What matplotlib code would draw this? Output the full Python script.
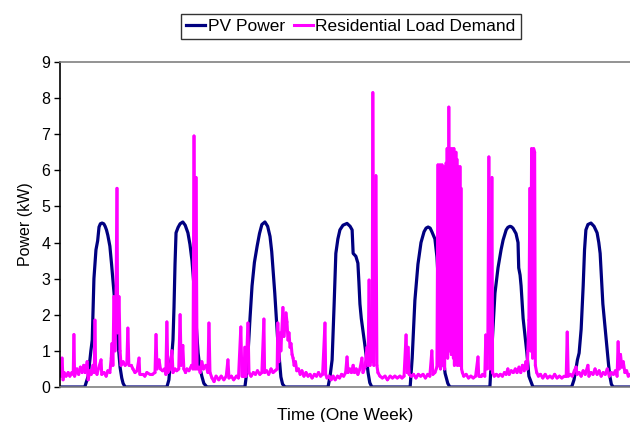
import matplotlib
matplotlib.use("Agg")
import matplotlib.pyplot as plt
from matplotlib.collections import LineCollection
from matplotlib.lines import Line2D

plt.rcParams['font.family'] = ['Liberation Sans', 'DejaVu Sans']
plt.rcParams['path.simplify'] = False

# PV power (kW) over one week, time in hours
pv_t = [0, 7.3, 8.3, 9.1, 9.5, 10.0, 10.6, 11.1, 11.5, 11.9, 12.4, 12.9, 13.3, 13.7, 14.1, 14.7, 15.2, 15.6,
        16.2, 16.8, 17.3, 17.7, 18.2, 18.6, 19.2,
        31.5, 32.1, 32.4, 33.0, 33.3, 33.6, 33.9, 34.2, 34.8, 35.4, 36.2, 36.9, 37.7, 38.3, 38.9, 39.4,
        39.8, 40.3, 40.7, 41.2, 41.8, 42.4, 43.3,
        54.5, 54.9, 55.4, 56.0, 56.6, 57.3, 58.1, 58.8, 59.5, 60.4, 61.2, 61.9, 62.4, 62.8, 63.3, 63.7,
        64.1, 64.5, 65.1, 65.6, 66.3,
        79.0, 79.6, 80.2, 80.8, 81.3, 81.9, 82.5, 83.4, 84.6, 85.5, 86.1, 86.4, 87.2, 87.8, 88.1, 88.4,
        88.8, 89.3, 89.8, 90.2, 90.8, 91.3, 91.9,
        103.2, 103.8, 104.6, 105.5, 106.4, 107.3, 107.9, 108.5, 109.1, 109.6, 110.5, 111.1, 111.7, 112.3,
        113.0, 113.5, 114.3, 114.9,
        126.7, 127.6, 128.2, 129.1, 130.0, 130.6, 131.5, 132.0, 132.6, 133.0, 133.5, 134.4, 135.0, 135.2,
        135.6, 135.9, 136.5, 137.6, 138.2, 139.4,
        150.8, 151.5, 152.1, 152.5, 153.0, 153.6, 154.2, 154.6, 155.0, 155.6, 156.5, 157.4, 158.3, 158.8,
        159.2, 159.6, 160.0, 160.6, 161.2, 161.7, 162.1, 162.5, 163.0, 168.0]
pv_kw = [0, 0, 0.3, 1.0, 1.3, 3.0, 3.8, 4.05, 4.43, 4.52, 4.54, 4.52, 4.45, 4.35, 4.2, 3.9, 3.4, 2.96,
         2.3, 1.66, 1.0, 0.55, 0.25, 0.1, 0,
         0, 0.2, 0.55, 0.94, 1.3, 2.2, 3.4, 4.27, 4.42, 4.52, 4.57, 4.48, 4.27, 3.95, 3.5, 2.9,
         2.2, 1.5, 0.94, 0.55, 0.3, 0.1, 0,
         0, 0.3, 0.9, 1.9, 2.8, 3.45, 3.9, 4.25, 4.5, 4.57, 4.45, 4.17, 3.75, 3.24, 2.6, 2.0,
         1.4, 0.94, 0.28, 0.08, 0,
         0, 0.3, 0.75, 2.3, 3.7, 4.1, 4.35, 4.48, 4.53, 4.45, 4.35, 3.7, 3.62, 3.43, 2.9, 2.3,
         1.9, 1.55, 1.2, 0.9, 0.4, 0.12, 0,
         0, 0.8, 2.4, 3.4, 4.0, 4.3, 4.4, 4.43, 4.4, 4.3, 4.1, 3.6, 2.6, 1.6,
         0.8, 0.38, 0.1, 0,
         0, 1.6, 2.6, 3.3, 3.8, 4.07, 4.35, 4.42, 4.45, 4.44, 4.4, 4.25, 4.0, 3.3,
         3.1, 2.8, 1.9, 0.95, 0.3, 0,
         0, 0.2, 0.52, 0.75, 0.94, 1.6, 2.8, 3.8, 4.35, 4.5, 4.54, 4.45, 4.27, 4.0,
         3.7, 3.0, 2.3, 1.7, 1.1, 0.6, 0.28, 0.08, 0, 0]

# residential load demand (kW), time in hours
load_t = [0.0, 0.4, 0.6, 0.9, 1.2, 1.8, 2.4, 2.9, 3.5, 3.9, 4.1, 4.3, 5.0, 5.5, 6.0, 6.5, 7.0, 7.4, 8.0, 8.3,
          8.8, 9.2, 9.7, 10.1, 10.3, 10.5, 10.9, 11.3, 12.1, 12.3, 13.0, 13.6, 14.1, 14.7, 15.1, 15.3, 15.6,
          15.9, 16.2, 16.5, 16.8, 17.0, 17.4, 17.7, 18.0, 18.6, 19.2, 19.7, 20.0, 20.3, 21.0, 21.5, 22.1,
          22.7, 23.3, 23.5, 24.5, 25.0, 25.6, 26.5, 27.2, 28.0, 28.3, 28.6, 29.2, 29.6, 30.2, 30.8, 31.2,
          31.5, 31.8, 32.4, 33.0, 33.3, 33.9, 34.4, 35.0, 35.4, 35.7, 36.2, 36.5, 37.0, 37.4, 38.0, 38.8,
          39.2, 39.5, 39.8, 40.1, 40.4, 40.9, 41.3, 41.8, 42.3, 43.0, 43.6, 43.9, 44.2, 44.8, 45.4, 46.0,
          46.8, 47.5, 48.3, 49.0, 49.5, 49.8, 50.5, 51.2, 52.0, 52.6, 53.3, 53.6, 54.2, 54.5, 54.8, 55.4,
          55.7, 56.3, 57.0, 57.6, 58.2, 58.9, 59.5, 60.1, 60.3, 60.9, 61.5, 62.2, 62.8, 63.4, 64.0, 64.2,
          64.5, 64.9, 65.1, 65.7, 66.0, 66.3, 66.6, 66.9, 67.2, 67.5, 67.8, 68.1, 68.4, 68.7, 69.0, 69.4,
          69.8, 70.3, 70.8, 71.3, 71.9, 72.5, 73.1, 73.7, 74.3, 75.0, 75.6, 76.2, 76.8, 77.4, 78.1, 78.3,
          78.7, 79.3, 79.9, 80.5, 81.1, 81.8, 82.4, 83.0, 83.6, 84.2, 84.6, 84.9, 85.4, 85.9, 86.4, 86.8,
          87.3, 87.8, 88.4, 89.0, 89.3, 89.9, 90.5, 90.8, 91.1, 91.4, 91.8, 92.0, 92.2, 92.5, 92.8, 93.1,
          93.4, 93.7, 94.3, 95.0, 95.8, 96.5, 97.3, 98.0, 98.7, 99.4, 100.2, 100.8, 101.4, 102.0, 102.3,
          102.6, 102.9, 103.5, 104.2, 104.9, 105.6, 106.3, 107.0, 107.7, 108.4, 109.0, 109.6, 109.9, 110.5,
          111.1,
          111.4, 111.55, 111.7, 111.85, 112.0, 112.15, 112.3, 112.45, 112.6, 112.75, 112.9, 113.05, 113.2,
          113.35, 113.5, 113.65, 113.8, 113.95, 114.1, 114.25, 114.4, 114.5, 114.6, 114.75, 114.9, 115.05,
          115.2, 115.35, 115.5, 115.65, 115.8, 115.95, 116.1, 116.25, 116.4, 116.55, 116.7, 116.85, 117.0,
          117.15, 117.3, 117.45, 117.6, 117.75, 117.9, 118.05, 118.2, 118.35,
          118.6, 119.0, 119.7, 120.4, 121.1, 121.8, 122.5, 123.2, 123.4, 124.0, 124.6, 125.2, 125.5, 125.8,
          126.1, 126.4, 126.7, 127.0, 127.3, 127.5, 128.0, 128.6, 129.2, 129.8, 130.4, 131.0, 131.5, 132.0,
          132.4, 133.0, 133.6, 134.2, 134.7, 135.3, 135.8, 136.3, 136.8, 137.3, 137.7, 137.9, 138.2, 138.5,
          138.7, 139.0, 139.3, 139.6, 139.9, 140.1, 140.5, 141.0, 141.6, 142.3, 143.0, 143.7, 144.4, 145.1,
          145.8, 146.5, 147.2, 147.9, 148.6, 149.2, 149.5, 149.8, 150.4, 151.0, 151.6, 152.1, 152.4, 153.0,
          153.6, 154.2, 154.8, 155.6, 155.9, 156.5, 157.1, 157.7, 158.3, 158.9, 159.5, 160.1, 160.7, 161.3,
          161.9, 162.5, 163.1, 163.7, 164.2, 164.5, 164.8, 165.2, 165.6, 166.0, 166.5, 167.0, 167.5, 168.0]
load_kw = [0.35, 0.3, 0.8, 0.2, 0.4, 0.3, 0.4, 0.3, 0.4, 0.35, 1.45, 0.3, 0.5, 0.35, 0.55, 0.4, 0.6, 0.4, 0.7, 0.2,
           0.45, 0.35, 0.6, 0.4, 1.85, 0.5, 0.35, 0.5, 0.75, 0.35, 0.4, 0.3, 0.45, 0.4, 0.8, 1.2, 0.6,
           2.5, 1.0, 2.4, 5.5, 1.5, 2.5, 1.0, 0.6, 0.7, 0.6, 0.65, 1.63, 0.6, 0.6, 0.5, 0.4,
           0.45, 0.8, 0.35, 0.35, 0.3, 0.4, 0.35, 0.35, 0.4, 1.45, 0.5, 0.75, 0.5, 0.45, 0.5, 0.35,
           1.8, 0.4, 0.5, 1.0, 0.4, 0.5, 0.45, 0.5, 2.0, 0.6, 1.15, 0.5, 0.4, 0.5, 0.45, 0.6,
           0.5, 6.95, 0.5, 5.8, 0.5, 0.55, 0.4, 0.7, 0.5, 0.6, 0.4, 1.77, 0.4, 0.25, 0.15, 0.3,
           0.2, 0.3, 0.2, 0.3, 0.75, 0.25, 0.3, 0.2, 0.3, 0.25, 1.66, 0.3, 0.3, 1.1, 0.3, 1.77,
           0.4, 0.3, 0.4, 0.35, 0.45, 0.35, 0.4, 1.88, 0.4, 0.45, 0.35, 0.5, 0.4, 0.45, 0.5, 1.77,
           0.7, 1.5, 1.0, 2.2, 1.4, 1.7, 2.05, 1.8, 1.3, 1.5, 1.1, 1.2, 0.9, 0.8, 0.6, 0.7,
           0.45, 0.5, 0.35, 0.45, 0.3, 0.4, 0.3, 0.35, 0.25, 0.35, 0.3, 0.4, 0.3, 0.35, 1.77, 0.35,
           0.25, 0.3, 0.2, 0.3, 0.2, 0.3, 0.25, 0.35, 0.3, 0.4, 0.83, 0.4, 0.5, 0.4, 0.6, 0.4,
           0.5, 0.35, 0.5, 0.8, 0.4, 0.55, 1.1, 0.6, 2.96, 0.6, 1.2, 0.7, 8.15, 0.6, 1.5, 5.85,
           0.6, 0.4, 0.3, 0.25, 0.3, 0.2, 0.3, 0.25, 0.3, 0.25, 0.3, 0.25, 0.3, 1.44, 0.4,
           1.1, 0.35, 0.3, 0.35, 0.25, 0.35, 0.3, 0.35, 0.25, 0.35, 0.3, 1.0, 0.35, 0.4,
           0.55,
           6.15, 0.6, 6.1, 0.8, 6.15, 0.5, 6.1, 1.0, 6.15, 0.6, 6.0, 0.7, 6.1,
           0.5, 5.95, 0.9, 6.2, 1.2, 6.6, 0.8, 6.5, 1.0, 7.75, 1.0, 6.6, 1.1,
           6.55, 0.9, 6.6, 1.5, 6.5, 0.8, 6.6, 0.6, 6.3, 1.0, 6.5, 0.7, 6.3,
           0.6, 6.1, 0.9, 6.0, 0.6, 6.1, 0.8, 5.5, 0.5,
           0.4, 0.3, 0.35, 0.25, 0.3, 0.25, 0.3, 0.83, 0.3, 0.3, 0.35, 0.3, 1.44, 0.5,
           1.2, 6.37, 0.5, 1.5, 5.8, 0.4, 0.3, 0.35, 0.3, 0.35, 0.3, 0.4, 0.35, 0.5,
           0.35, 0.45, 0.4, 0.5, 0.4, 0.55, 0.4, 0.6, 0.45, 0.7, 0.5, 1.0, 1.85, 5.5,
           1.0, 6.6, 0.8, 6.6, 6.5, 0.6, 0.4, 0.3, 0.35, 0.25, 0.35, 0.25, 0.3, 0.25,
           0.35, 0.25, 0.3, 0.25, 0.3, 0.3, 1.52, 0.3, 0.35, 0.3, 0.45, 0.55, 0.35, 0.4,
           0.3, 0.45, 0.35, 0.6, 0.3, 0.4, 0.35, 0.5, 0.35, 0.45, 0.3, 0.4, 0.35, 0.5,
           0.3, 0.4, 0.35, 0.45, 0.3, 1.25, 0.5, 0.9, 0.55, 0.7, 0.4, 0.45, 0.3, 0.35]

pv_color = '#000080'
load_color = '#FF00FF'

fig = plt.figure(figsize=(6.3, 4.22), dpi=100)
ax = fig.add_axes([60 / 630, 35 / 422, 570 / 630, 325 / 422])

ax.plot(pv_t, pv_kw, color=pv_color, lw=2.3)

# load drawn segment by segment so the dense zig-zag part renders solid
pts = list(zip(load_t, load_kw))
segs = [[pts[i], pts[i + 1]] for i in range(len(pts) - 1)]
ax.add_collection(LineCollection(segs, colors=load_color, linewidths=2.2, capstyle='round'))

ax.set_xlim(0, 168)
ax.set_ylim(0, 9)
ax.set_yticks(range(0, 10))
ax.set_xticks([])
ax.tick_params(axis='y', direction='out', length=4, width=1, labelsize=11.5, pad=3)

ax.spines['right'].set_visible(False)
ax.spines['left'].set_color('black')
ax.spines['top'].set_color('#808080')
ax.spines['bottom'].set_color('#808080')
for s in ['left', 'top', 'bottom']:
    ax.spines[s].set_linewidth(1.2)

ax.set_ylabel('Power (kW)', fontsize=11.5, labelpad=6)
ax.set_xlabel('Time (One Week)', fontsize=12.5, labelpad=15)

handles = [Line2D([], [], color=pv_color, lw=2.3), Line2D([], [], color=load_color, lw=2.2)]
leg = fig.legend(handles, ['PV Power', 'Residential Load Demand'], loc='center',
                 bbox_to_anchor=(351 / 630, 1 - 26.5 / 422), ncol=2,
                 fontsize=12.5, frameon=True, fancybox=False, handlelength=1.1,
                 handletextpad=0.15, columnspacing=0.5, borderpad=0.3, borderaxespad=0)
leg.get_frame().set_edgecolor('black')
leg.get_frame().set_linewidth(1.0)

fig.savefig('out.png', dpi=100)
